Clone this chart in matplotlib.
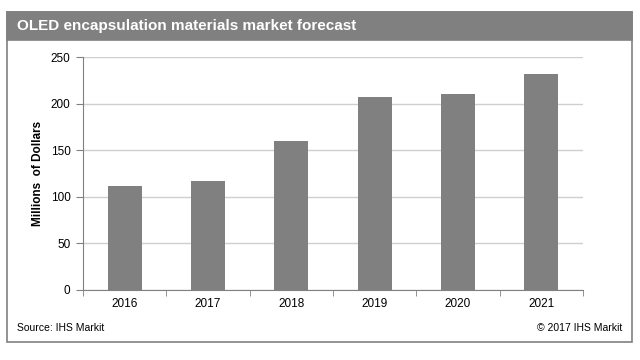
import matplotlib.pyplot as plt
from matplotlib.patches import Rectangle
import numpy as np

plt.rcParams['font.family'] = ['Liberation Sans', 'DejaVu Sans']

years = ['2016', '2017', '2018', '2019', '2020', '2021']
values = [112, 117, 160, 207, 210, 232]
title = 'OLED encapsulation materials market forecast'
y_label = 'Millions  of Dollars'

W, H = 640, 360
fig = plt.figure(figsize=(6.4, 3.6), dpi=100)
fig.patch.set_facecolor('white')


def fx(px):
    return px / W


def fy(py):
    return 1 - py / H


# outer frame and title band
fig.patches.append(Rectangle((fx(7), fy(342)), fx(632) - fx(7), fy(12) - fy(342),
                             transform=fig.transFigure, fill=False,
                             edgecolor='#808080', linewidth=1.2))
fig.patches.append(Rectangle((fx(7), fy(40)), fx(632) - fx(7), fy(12) - fy(40),
                             transform=fig.transFigure, facecolor='#808080',
                             edgecolor='#808080', linewidth=1.2))
fig.text(fx(17), fy(26), title, color='white', fontsize=11, fontweight='bold',
         va='center', ha='left')

ax = fig.add_axes([fx(83), fy(289.8), fx(583) - fx(83), fy(57) - fy(289.8)])
x = np.arange(len(years))
ax.bar(x, values, width=0.41, color='#808080', zorder=3)
ax.set_xlim(-0.5, len(years) - 0.5)
ax.set_ylim(0, 250)
ax.set_yticks([0, 50, 100, 150, 200, 250])
ax.set_xticks(x)
ax.set_xticklabels(years, fontsize=8.5)
ax.tick_params(axis='x', length=0, pad=6)
ax.set_xticks(np.arange(len(years) + 1) - 0.5, minor=True)
ax.tick_params(axis='x', which='minor', length=4, color='#808080', direction='out')
ax.tick_params(axis='y', length=5, color='#808080', labelsize=8.5, pad=4)
ax.grid(axis='y', color='#cfcfcf', linewidth=1, zorder=0)
for s in ['top', 'right']:
    ax.spines[s].set_visible(False)
for s in ['left', 'bottom']:
    ax.spines[s].set_color('#808080')
ax.set_ylabel(y_label, fontsize=8.5, fontweight='bold', labelpad=5)

fig.text(fx(17), fy(328), 'Source: IHS Markit', fontsize=7.5, va='center', ha='left')
fig.text(fx(622), fy(328), '\u00a9 2017 IHS Markit', fontsize=7.5, va='center', ha='right')

fig.savefig('out.png', dpi=100)
